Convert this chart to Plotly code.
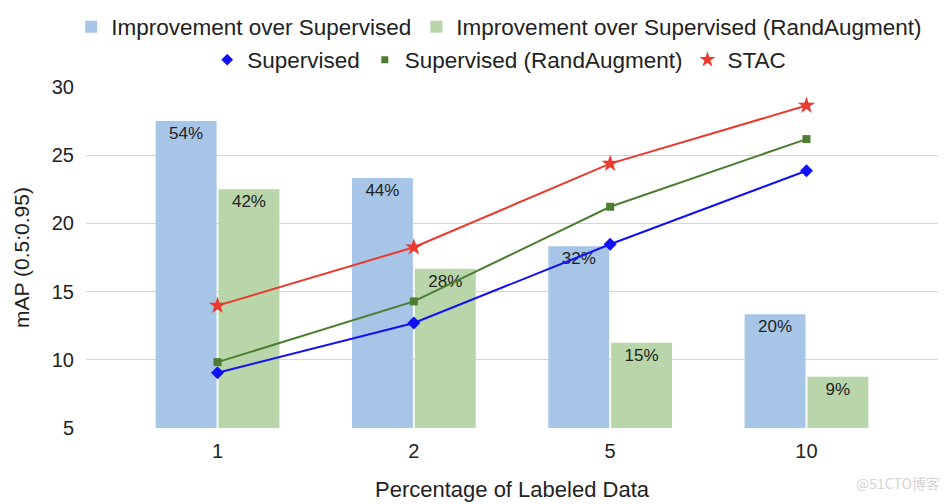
import plotly.graph_objects as go

categories = ["1", "2", "5", "10"]
improvement_sup = [54, 44, 32, 20]
improvement_ra = [42, 28, 15, 9]
supervised = [9.05, 12.70, 18.47, 23.86]
supervised_ra = [9.83, 14.28, 21.22, 26.18]
stac = [13.97, 18.25, 24.38, 28.64]
y_ticks = [5, 10, 15, 20, 25, 30]

FONT = "Liberation Sans, Arial, sans-serif"
BLUE_BAR = "#a7c5e6"
GREEN_BAR = "#b8d6a9"
BLUE = "#1010f5"
GREEN = "#4c7d33"
RED = "#ea3a2e"

# the page body has an 8px default margin, so the figure is sized/offset for it
W, H = 942, 496

fig = go.Figure()

fig.add_trace(go.Bar(
    x=categories, y=improvement_sup, name="Improvement over Supervised",
    marker=dict(color=BLUE_BAR, line=dict(width=0)),
    text=[f"{v}%" for v in improvement_sup], textposition="inside",
    insidetextanchor="end", textangle=0,
    textfont=dict(size=17, color="#222222", family=FONT),
    legend="legend", xaxis="x", yaxis="y",
))
fig.add_trace(go.Bar(
    x=categories, y=improvement_ra, name="Improvement over Supervised (RandAugment)",
    marker=dict(color=GREEN_BAR, line=dict(width=0)),
    text=[f"{v}%" for v in improvement_ra], textposition="inside",
    insidetextanchor="end", textangle=0,
    textfont=dict(size=17, color="#222222", family=FONT),
    legend="legend", xaxis="x", yaxis="y",
))

line_specs = [
    ("Supervised", supervised, BLUE, "diamond", 10),
    ("Supervised (RandAugment)", supervised_ra, GREEN, "square", 8),
    ("STAC", stac, RED, "star", 13),
]
for name, vals, col, sym, sz in line_specs:
    fig.add_trace(go.Scatter(
        x=categories, y=vals, name=name, mode="lines+markers",
        line=dict(color=col, width=2),
        marker=dict(symbol=sym, size=sz, color=col),
        showlegend=False, xaxis="x", yaxis="y2",
    ))
    # legend-only entry (marker without line, as in the reference)
    fig.add_trace(go.Scatter(
        x=[None], y=[None], name=name, mode="markers",
        marker=dict(symbol=sym, size=sz - 1, color=col),
        legend="legend2", xaxis="x", yaxis="y2",
    ))

fig.update_layout(
    width=W, height=H,
    margin=dict(l=78, r=12, t=79, b=76, autoexpand=False),
    paper_bgcolor="white", plot_bgcolor="white",
    font=dict(family=FONT, size=21, color="#222222"),
    barmode="group", bargap=0.36, bargroupgap=0.03,
    xaxis=dict(
        type="category", range=[-0.67, 3.67],
        showgrid=False, zeroline=False, showline=False,
        tickfont=dict(size=20, color="#222222"),
        ticks="outside", ticklen=5, tickcolor="rgba(0,0,0,0)",
        title=dict(text="Percentage of Labeled Data", font=dict(size=22), standoff=20),
    ),
    yaxis=dict(range=[0, 60], visible=False),
    yaxis2=dict(
        overlaying="y", side="left", range=[5, 30],
        tickvals=y_ticks, showgrid=True, gridcolor="#d6d6d6", gridwidth=1,
        zeroline=False, showline=False,
        tickfont=dict(size=20, color="#222222"), ticklabelstandoff=11,
        title=dict(text="mAP (0.5:0.95)", font=dict(size=21), standoff=16),
    ),
    legend=dict(
        orientation="h", xref="paper", x=0.485, xanchor="center",
        yref="container", y=1 - 19 / H, yanchor="middle",
        font=dict(size=22.5), itemwidth=30, bgcolor="rgba(0,0,0,0)",
    ),
    legend2=dict(
        orientation="h", xref="paper", x=0.485, xanchor="center",
        yref="container", y=1 - 52 / H, yanchor="middle",
        font=dict(size=22.5), itemwidth=30, bgcolor="rgba(0,0,0,0)",
    ),
    annotations=[dict(
        text="@51CTO博客", xref="paper", yref="paper", x=1.005, y=-0.162,
        xanchor="right", yanchor="middle", showarrow=False,
        font=dict(size=14, color="#d4d4d4", family="Noto Sans CJK SC, Liberation Sans"),
    )],
)

fig.write_html("out.html")
